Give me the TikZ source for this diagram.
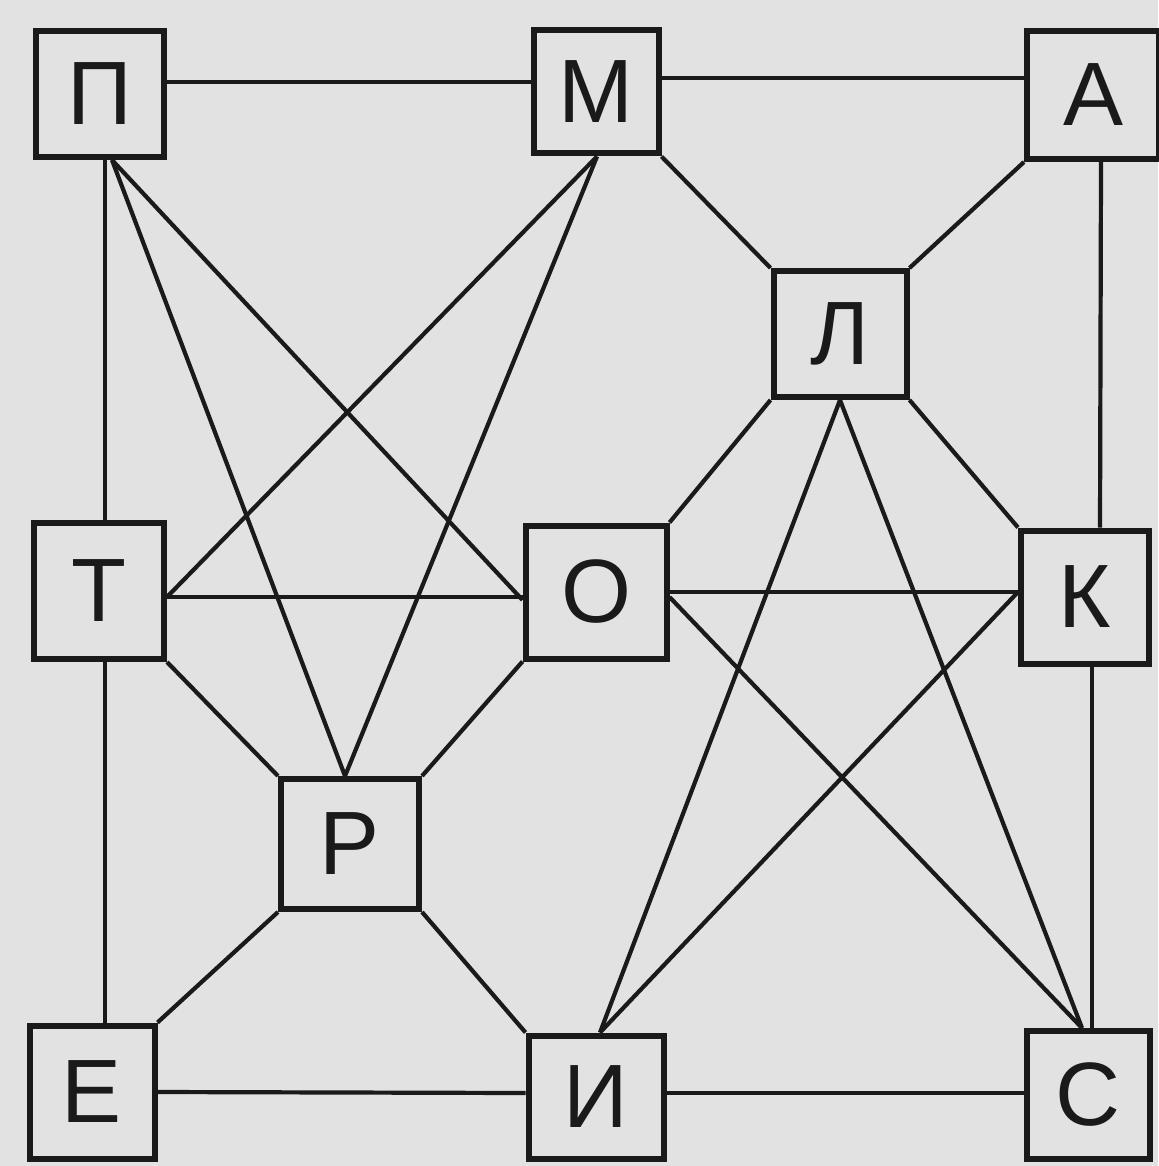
\documentclass[tikz,border=0pt]{standalone}
\usepackage{fontspec}
\setmainfont{Liberation Sans}
\usetikzlibrary{calc}
\definecolor{paper}{HTML}{E2E2E2}
\definecolor{ink}{HTML}{1A1A1A}
\tikzset{
  box/.style={draw=ink, fill=paper, line width=6pt, rectangle, inner sep=0pt,
    font=\fontsize{90}{90}\selectfont, text=ink},
  link/.style={draw=ink, line width=4.2pt}
}
\begin{document}
\begin{tikzpicture}[x=1pt,y=-1pt]
\fill[paper] (0,0) rectangle (1158,1166);
\useasboundingbox (0,0) rectangle (1158,1166);
% nodes
\node[box, minimum width=128, minimum height=126] (P) at (100,94) {П};
\node[box, minimum width=125, minimum height=123] (M) at (596,92) {М};
\node[box, minimum width=132, minimum height=128] (A) at (1093,95) {А};
\node[box, minimum width=133, minimum height=126] (L) at (840,334) {Л};
\node[box, minimum width=130, minimum height=136] (T) at (99,591) {Т};
\node[box, minimum width=141, minimum height=133] (O) at (596,592) {О};
\node[box, minimum width=128, minimum height=133] (K) at (1085,597) {К};
\node[box, minimum width=138, minimum height=130] (R) at (350,844) {Р};
\node[box, minimum width=125, minimum height=133] (E) at (92,1092) {Е};
\node[box, minimum width=135, minimum height=123] (I) at (596,1097) {И};
\node[box, minimum width=123, minimum height=128] (C) at (1088,1095) {С};
% outer frame links
\draw[link] ($(P.east)+(0,-12)$) -- ($(M.west)+(0,-10)$);
\draw[link] ($(M.east)+(0,-14)$) -- ($(A.west)+(0,-17)$);
\draw[link] ($(P.south)+(5,0)$) -- ($(T.north)+(6,0)$);
\draw[link] ($(T.south)+(6,0)$) -- ($(E.north)+(13,0)$);
\draw[link] ($(A.south)+(8,0)$) -- ($(K.north)+(15,0)$);
\draw[link] ($(K.south)+(7,0)$) -- ($(C.north)+(4,0)$);
\draw[link] (E.east) -- ($(I.west)+(0,-4)$);
\draw[link] ($(I.east)+(0,-4)$) -- ($(C.west)+(0,-2)$);
% diagonal corner links
\draw[link] (M.south east) -- (L.north west);
\draw[link] (A.south west) -- (L.north east);
\draw[link] (L.south west) -- (O.north east);
\draw[link] (L.south east) -- (K.north west);
\draw[link] (T.south east) -- (R.north west);
\draw[link] (O.south west) -- (R.north east);
\draw[link] (R.south west) -- (E.north east);
\draw[link] (R.south east) -- (I.north west);
% middle horizontals
\draw[link] ($(T.east)+(0,6)$) -- ($(O.west)+(0,5)$);
\draw[link] (O.east) -- ($(K.west)+(0,-5)$);
% star links
\draw[link] ($(P.south)+(12,0)$) -- ($(R.north)+(-5,0)$);
\draw[link] ($(P.south)+(12,0)$) -- ($(O.west)+(0,8)$);
\draw[link] ($(M.south)+(1,0)$) -- ($(T.east)+(0,6)$);
\draw[link] ($(M.south)+(1,0)$) -- ($(R.north)+(-5,0)$);
\draw[link] (L.south) -- ($(I.north)+(4,0)$);
\draw[link] (L.south) -- ($(C.north)+(-6,0)$);
\draw[link] ($(O.east)+(0,5)$) -- ($(C.north)+(-6,0)$);
\draw[link] ($(K.west)+(0,-5)$) -- ($(I.north)+(4,0)$);
\end{tikzpicture}
\end{document}
